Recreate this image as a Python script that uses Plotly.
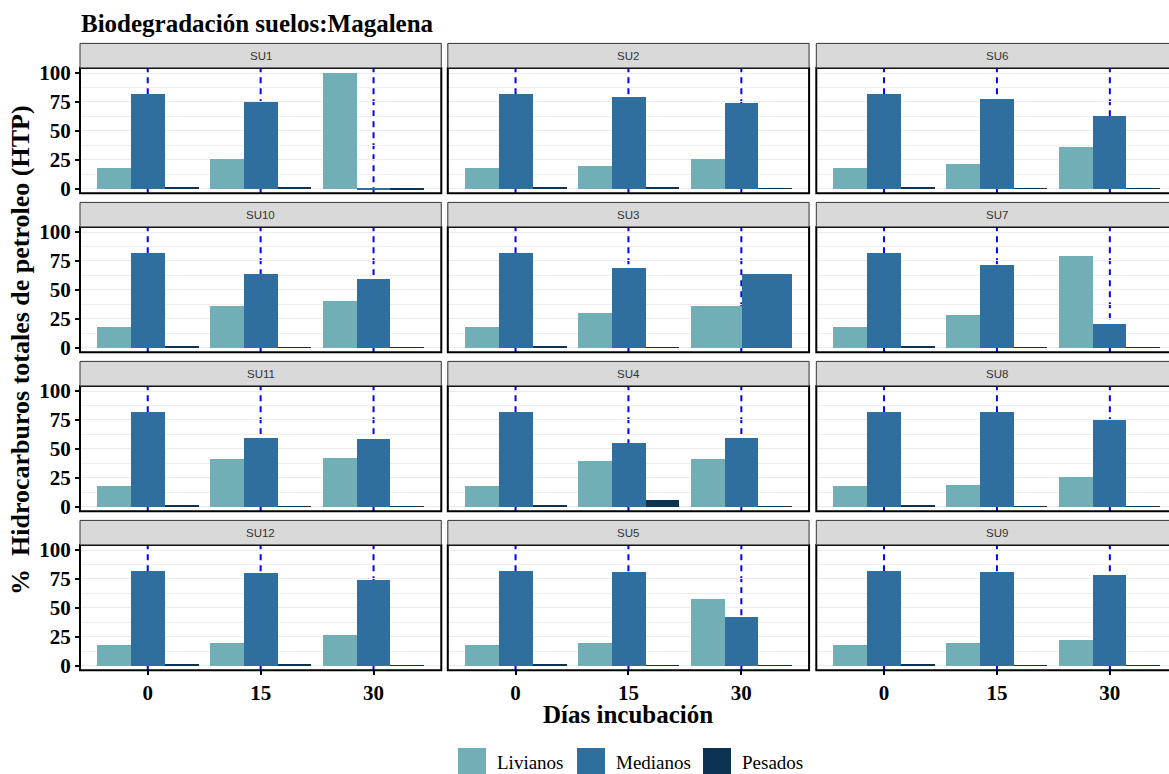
import plotly.graph_objects as go

W, H = 1169, 774

panels = ["SU1", "SU2", "SU6", "SU10", "SU3", "SU7", "SU11", "SU4", "SU8", "SU12", "SU5", "SU9"]
dias = ["0", "15", "30"]
series = ["Livianos", "Medianos", "Pesados"]
colors = ["#72AEB6", "#2F6F9F", "#0C3352"]

livianos = [
    [18, 26, 100],     # SU1
    [18, 19.3, 26],    # SU2
    [18, 21.6, 36.4],  # SU6
    [18, 36.1, 40.4],  # SU10
    [18, 30, 36.1],    # SU3
    [18, 28.3, 79.4],  # SU7
    [18, 41.3, 42.1],  # SU11
    [18, 39.5, 41.3],  # SU4
    [18, 18.8, 25.7],  # SU8
    [18, 19.6, 26.6],  # SU12
    [18, 19.6, 57.7],  # SU5
    [18, 19.6, 22.2],  # SU9
]
medianos = [
    [81.7, 75.3, -0.8],
    [81.7, 79.7, 74.5],
    [81.7, 77.9, 63.2],
    [81.7, 63.8, 59.5],
    [81.7, 69, 63.8],
    [81.7, 71.6, 20.5],
    [81.7, 59.5, 58.6],
    [81.7, 55.1, 59.5],
    [81.7, 82, 75],
    [81.7, 80.2, 74.2],
    [81.7, 81.1, 42.1],
    [81.7, 81.1, 78.5],
]
pesados = [
    [1.2, 1.0, -0.8],
    [1.2, 1.7, 0.3],
    [1.2, 0.5, 0.5],
    [1.2, 0.5, 0.5],
    [1.2, 0.5, None],
    [1.2, 0.5, 0.5],
    [1.2, 0.5, 0.5],
    [1.2, 5.8, 0.5],
    [1.2, 0.5, 0.5],
    [1.2, 1.4, 0.3],
    [1.2, 0.4, 0.4],
    [1.2, 0.4, 0.4],
]
data = [livianos, medianos, pesados]

y_ticks = [0, 25, 50, 75, 100]
y_range = [-4, 104.5]

def fx(x):
    return x / W

def fy(y):
    return 1 - y / H

# layout geometry (pixels)
col_left = [80, 447.8, 816.3]
unit = 112.9
panel_w = 3.2 * unit
row_zero = [188.6 + 159 * i for i in range(4)]
yscale = 1.155
strip_h = 24.5

fig = go.Figure()
shapes = []
annotations = []
font_serif = "Liberation Serif, Times New Roman, serif"

for k, name in enumerate(panels):
    r, c = divmod(k, 3)
    ax = "" if k == 0 else str(k + 1)
    x0p = col_left[c]
    x1p = min(x0p + panel_w, W)
    xr1 = 0.4 + (x1p - x0p) / unit
    y_top = row_zero[r] - y_range[1] * yscale
    y_bot = row_zero[r] - y_range[0] * yscale

    # dodge positions computed from available values
    for s_i, sname in enumerate(series):
        xs, ys, ws = [], [], []
        for d_i in range(len(dias)):
            present = [j for j in range(3) if data[j][k][d_i] is not None]
            v = data[s_i][k][d_i]
            if v is None:
                continue
            n = len(present)
            w = 0.9 / n
            idx = present.index(s_i)
            xs.append(d_i + 1 - 0.45 + w * (idx + 0.5))
            ys.append(v)
            ws.append(w)
        fig.add_trace(go.Bar(
            x=xs, y=ys, width=ws, name=sname,
            marker=dict(color=colors[s_i], line=dict(width=0)),
            xaxis="x" + ax, yaxis="y" + ax, showlegend=False,
        ))

    fig.layout["xaxis" + ax] = dict(
        domain=[fx(x0p), fx(x1p)], range=[0.4, xr1], anchor="y" + ax,
        tickvals=[1, 2, 3], ticktext=dias, showgrid=False, zeroline=False,
        showticklabels=(r == 3), ticks="outside" if r == 3 else "",
        ticklen=4, tickwidth=1.5, tickcolor="black", automargin=False,
        tickfont=dict(family=font_serif, size=21, color="black", weight="bold"),
        fixedrange=True,
    )
    fig.layout["yaxis" + ax] = dict(
        domain=[fy(y_bot), fy(y_top)], range=y_range, anchor="x" + ax,
        tickvals=y_ticks, showgrid=True, gridcolor="#EBEBEB", gridwidth=1.3,
        zeroline=False, showticklabels=(c == 0), automargin=False,
        ticks="outside" if c == 0 else "", ticklen=4, tickwidth=1.5, tickcolor="black",
        tickfont=dict(family=font_serif, size=21, color="black", weight="bold"),
        minor=dict(tickvals=[12.5, 37.5, 62.5, 87.5], showgrid=True,
                   gridcolor="#EEEEEE", gridwidth=0.7),
        fixedrange=True,
    )

    # dashed reference lines at each day
    for d_i in range(len(dias)):
        shapes.append(dict(
            type="line", xref="x" + ax, yref="y" + ax + " domain",
            x0=d_i + 1, x1=d_i + 1, y0=0, y1=1,
            line=dict(color="#0000FF", width=2, dash="6px,5px"), layer="below",
        ))
    # panel border
    shapes.append(dict(
        type="rect", xref="paper", yref="paper",
        x0=fx(x0p), x1=fx(x0p + panel_w), y0=fy(y_bot), y1=fy(y_top),
        line=dict(color="black", width=2), fillcolor="rgba(0,0,0,0)", layer="above",
    ))
    # strip
    shapes.append(dict(
        type="rect", xref="paper", yref="paper",
        x0=fx(x0p), x1=fx(x0p + panel_w), y0=fy(y_top), y1=fy(y_top - strip_h),
        line=dict(color="#333333", width=1), fillcolor="#D9D9D9", layer="above",
    ))
    annotations.append(dict(
        text=name, xref="paper", yref="paper",
        x=fx(x0p + panel_w / 2), y=fy(y_top - strip_h / 2),
        showarrow=False, xanchor="center", yanchor="middle",
        font=dict(family="Liberation Sans, Arial, sans-serif", size=11.5, color="#333333"),
    ))

# titles
annotations.append(dict(
    text="Biodegradación suelos:Magalena", xref="paper", yref="paper",
    x=fx(79), y=fy(23), xanchor="left", yanchor="middle", showarrow=False,
    font=dict(family=font_serif, size=25, color="black", weight="bold"),
))
annotations.append(dict(
    text="Días incubación", xref="paper", yref="paper",
    x=fx(628), y=fy(714), xanchor="center", yanchor="middle", showarrow=False,
    font=dict(family=font_serif, size=25, color="black", weight="bold"),
))
annotations.append(dict(
    text="%\u00a0\u00a0Hidrocarburos totales de petroleo (HTP)", xref="paper", yref="paper",
    x=fx(20), y=fy(350), xanchor="center", yanchor="middle", showarrow=False,
    textangle=-90,
    font=dict(family=font_serif, size=26, color="black", weight="bold"),
))

# legend (drawn manually)
leg_box_x = [458, 577, 703]
for s_i, sname in enumerate(series):
    bx = leg_box_x[s_i]
    shapes.append(dict(
        type="rect", xref="paper", yref="paper",
        x0=fx(bx), x1=fx(bx + 28), y0=fy(776), y1=fy(748),
        line=dict(width=0), fillcolor=colors[s_i], layer="above",
    ))
    annotations.append(dict(
        text=sname, xref="paper", yref="paper",
        x=fx(bx + 37), y=fy(762), xanchor="left", yanchor="middle", showarrow=False,
        font=dict(family=font_serif, size=19, color="black"),
    ))

fig.update_layout(
    width=W, height=H, margin=dict(l=0, r=0, t=0, b=0, pad=0, autoexpand=False),
    paper_bgcolor="white", plot_bgcolor="white",
    barmode="overlay", bargap=0,
    shapes=shapes, annotations=annotations, showlegend=False,
)

css_fix = (
    "var s=document.createElement('style');"
    "s.textContent='html,body{margin:0!important;padding:0!important;overflow:hidden;"
    "width:1169px;height:774px;}';"
    "document.head.appendChild(s);"
)

fig.write_html(
    "out.html",
    config={"displayModeBar": False},
    post_script=css_fix,
)
